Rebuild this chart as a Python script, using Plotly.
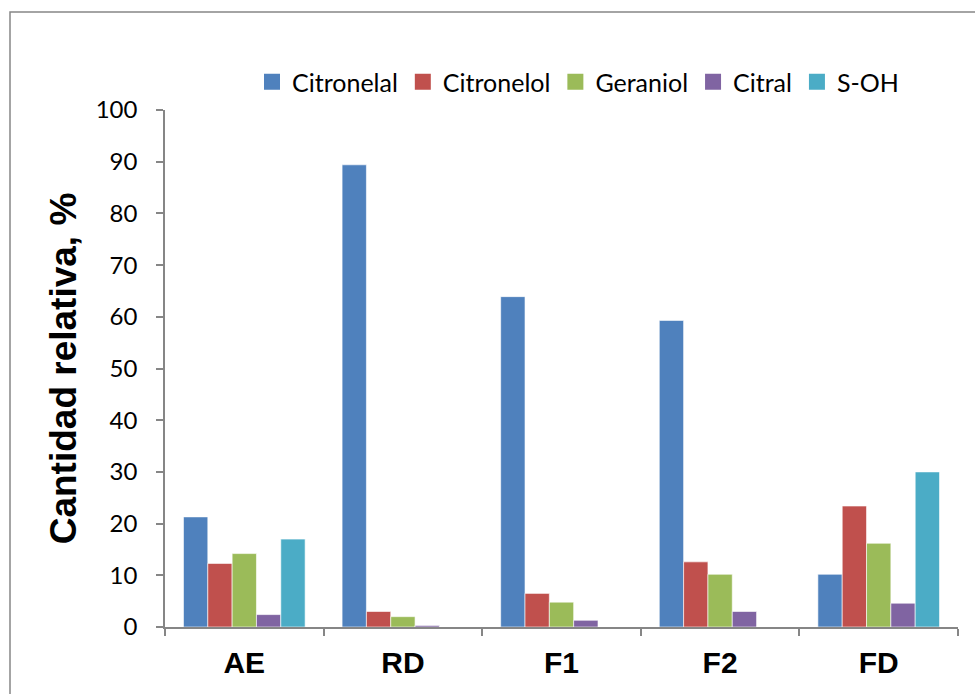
import plotly.graph_objects as go

# Muestras y compuestos
categories = ["AE", "RD", "F1", "F2", "FD"]
series_names = ["Citronelal", "Citronelol", "Geraniol", "Citral", "S-OH"]
citronelal = [21.3, 89.4, 63.9, 59.3, 10.2]
citronelol = [12.3, 3.0, 6.5, 12.6, 23.4]
geraniol = [14.2, 2.0, 4.8, 10.2, 16.2]
citral = [2.4, 0.3, 1.3, 3.0, 4.6]
s_oh = [17.0, 0.0, 0.0, 0.0, 30.0]
colors = ["#4F81BD", "#C0504D", "#9BBB59", "#8064A2", "#4BACC6"]
y_ticks = [0, 10, 20, 30, 40, 50, 60, 70, 80, 90, 100]

W, H = 975, 694
L, R, T, B = 165, 17, 110, 67
pw, ph = W - L - R, H - T - B

fig = go.Figure()
for name, vals, col in zip(series_names, [citronelal, citronelol, geraniol, citral, s_oh], colors):
    fig.add_trace(go.Bar(
        x=categories, y=vals, name=name, legendgroup=name, showlegend=False,
        marker=dict(color=col, line=dict(color="rgba(255,255,255,0.6)", width=1)),
    ))
    # square legend key for each series
    fig.add_trace(go.Scatter(
        x=[None], y=[None], name=name, legendgroup=name, mode="markers",
        marker=dict(symbol="square", size=16, color=col, line=dict(width=0)),
        showlegend=True,
    ))

axis_gray = "#868686"


def px_x(p):
    return (p - L) / pw


def px_y(p):
    return (H - B - p) / ph


fig.update_layout(
    width=W, height=H,
    margin=dict(l=L, r=R, t=T, b=B),
    paper_bgcolor="white", plot_bgcolor="white",
    barmode="group", bargap=0.233, bargroupgap=0,
    font=dict(family="Lato, sans-serif", color="black", size=24),
    showlegend=True,
    legend=dict(
        orientation="h", x=px_x(578), y=px_y(82), xanchor="center", yanchor="middle",
        font=dict(size=25, family="Lato, sans-serif"), itemwidth=30,
        bgcolor="rgba(0,0,0,0)", tracegroupgap=0,
    ),
    xaxis=dict(
        type="category", showline=True, linecolor=axis_gray, linewidth=1.5,
        ticks="outside", tickson="boundaries", ticklen=7, tickcolor=axis_gray, tickwidth=1.5,
        tickfont=dict(family="Liberation Sans, Arial, sans-serif", size=30, color="black",
                      weight="bold"),
        ticklabelstandoff=8,
        showgrid=False, zeroline=False,
    ),
    yaxis=dict(
        range=[0, 100], tickvals=y_ticks, showline=True, linecolor=axis_gray, linewidth=1.5,
        ticks="outside", ticklen=7, tickcolor=axis_gray, tickwidth=1.5,
        tickfont=dict(family="Lato, sans-serif", size=24, color="black"),
        ticklabelstandoff=14,
        showgrid=False, zeroline=False,
        title=dict(text="<b>Cantidad relativa, %</b>",
                   font=dict(family="Liberation Sans, Arial, sans-serif", size=37, color="black"),
                   standoff=8),
    ),
    shapes=[dict(
        type="rect", xref="paper", yref="paper",
        x0=px_x(10), x1=px_x(990), y0=px_y(720), y1=px_y(12),
        line=dict(color="#878787", width=1.5), fillcolor="rgba(0,0,0,0)", layer="below",
    )],
)

fig.write_html("out.html")
